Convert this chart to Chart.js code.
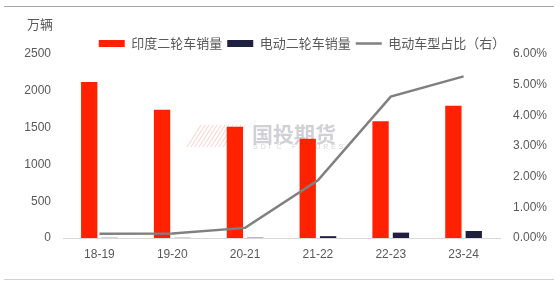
<!DOCTYPE html>
<html><head><meta charset="utf-8">
<script src="https://cdn.jsdelivr.net/npm/chart.js@4/dist/chart.umd.min.js"></script>
<style>html,body{margin:0;padding:0;background:#fff;}#wrap{position:relative;width:560px;height:287px;}canvas{display:block;}</style>
</head><body><div id="wrap"><canvas id="c" width="560" height="287"></canvas></div>
<script>
const categories = ['18-19', '19-20', '20-21', '21-22', '22-23', '23-24'];
const totalSales = [2118, 1742, 1512, 1347, 1586, 1797];
const evSales = [2.8, 2.6, 4.4, 25, 73, 95];
const evShare = [0.0014, 0.0015, 0.0033, 0.0188, 0.0461, 0.0527];
const seriesNames = ['印度二轮车销量', '电动二轮车销量', '电动车型占比（右）'];
const unitLabel = '万辆';

const TXT = '#595959';
const tickFont = { family: 'Liberation Sans, Arial, sans-serif', size: 12 };

const decor = {
  id: 'decor',
  afterInit(chart) {
    const lg = chart.legend;
    const f = lg.fit.bind(lg);
    lg.fit = function () { f(); this.height = 22; };
  },
  afterLayout(chart) {
    chart.legend.left += 22;
    chart.legend.right += 22;
  },
  beforeDraw(chart) {
    const ctx = chart.ctx;
    ctx.save();
    ctx.fillStyle = '#fff';
    ctx.fillRect(0, 0, chart.width, chart.height);
    ctx.strokeStyle = '#a6a6a6';
    ctx.lineWidth = 1.2;
    ctx.beginPath(); ctx.moveTo(4, 6.5); ctx.lineTo(554, 6.5); ctx.stroke();
    ctx.strokeStyle = '#d0d0d0';
    ctx.beginPath(); ctx.moveTo(4, 279.5); ctx.lineTo(554, 279.5); ctx.stroke();
    ctx.fillStyle = TXT;
    ctx.font = '13px "Noto Sans CJK SC"';
    ctx.textAlign = 'left';
    ctx.textBaseline = 'middle';
    ctx.fillText(unitLabel, 27, 24);
    ctx.restore();
  },
  beforeDatasetsDraw(chart) {
    const ctx = chart.ctx;
    ctx.save();
    ctx.strokeStyle = 'rgba(240,120,100,0.28)';
    ctx.lineWidth = 1.2;
    for (let i = 0; i < 12; i++) {
      const x0 = 187 + i * 4;
      ctx.beginPath(); ctx.moveTo(x0, 147); ctx.lineTo(x0 + 14, 125); ctx.stroke();
    }
    ctx.fillStyle = 'rgba(150,150,165,0.45)';
    ctx.font = 'bold 21px "Noto Sans CJK SC"';
    ctx.textAlign = 'left';
    ctx.textBaseline = 'middle';
    ctx.fillText('国投期货', 252, 134);
    ctx.font = '7px "Liberation Sans"';
    ctx.fillStyle = 'rgba(150,150,165,0.4)';
    const s = 'SDIC FUTURES';
    let x = 253;
    for (const ch of s) { ctx.fillText(ch, x, 147); x += 7.8; }
    ctx.restore();
  }
};

const order = seriesNames.slice();

new Chart(document.getElementById('c'), {
  data: {
    labels: categories,
    datasets: [
      { type: 'line', label: seriesNames[2], data: evShare, yAxisID: 'y1', borderColor: '#808080', backgroundColor: '#808080', borderWidth: 2.5, pointRadius: 0, tension: 0, order: 0 },
      { type: 'bar', label: seriesNames[0], data: totalSales, yAxisID: 'y', backgroundColor: '#ff2200', borderWidth: 0, categoryPercentage: 0.56, barPercentage: 0.8, order: 1 },
      { type: 'bar', label: seriesNames[1], data: evSales, yAxisID: 'y', backgroundColor: '#1f1f40', borderWidth: 0, categoryPercentage: 0.56, barPercentage: 0.8, order: 1 }
    ]
  },
  options: {
    responsive: false,
    devicePixelRatio: 1,
    animation: false,
    layout: { padding: { top: 32, left: 0, right: 0, bottom: 0 } },
    plugins: {
      tooltip: { enabled: false },
      legend: {
        position: 'top',
        align: 'center',
        labels: {
          color: TXT,
          font: { family: '"Noto Sans CJK SC"', size: 13 },
          usePointStyle: true,
          pointStyleWidth: 26,
          boxHeight: 7,
          padding: 5,
          sort: (a, b) => order.indexOf(a.text) - order.indexOf(b.text),
          generateLabels(chart) {
            const items = Chart.defaults.plugins.legend.labels.generateLabels(chart);
            items.forEach(it => {
              const ds = chart.data.datasets[it.datasetIndex];
              if (ds.type === 'line') { it.pointStyle = 'line'; it.lineWidth = 2.5; it.strokeStyle = '#808080'; }
              else { it.pointStyle = 'rect'; it.lineWidth = 0; }
            });
            return items;
          }
        }
      }
    },
    scales: {
      x: {
        grid: { display: false, drawTicks: false },
        border: { display: true, color: '#d9d9d9', width: 1 },
        ticks: { color: TXT, font: tickFont, padding: 9, maxRotation: 0 },
        afterFit(s) { s.height = 49; }
      },
      y: {
        position: 'left',
        min: 0, max: 2500,
        grid: { display: false, drawTicks: false },
        border: { display: false },
        ticks: { stepSize: 500, color: TXT, font: tickFont, padding: 12, callback: v => String(v) },
        afterFit(s) { s.width = 63; }
      },
      y1: {
        position: 'right',
        min: 0, max: 0.06,
        grid: { display: false, drawTicks: false },
        border: { display: false },
        ticks: { stepSize: 0.01, color: TXT, font: tickFont, padding: 13, callback: v => (v * 100).toFixed(2) + '%' },
        afterFit(s) { s.width = 60; }
      }
    }
  },
  plugins: [decor]
});
</script>
</body></html>
